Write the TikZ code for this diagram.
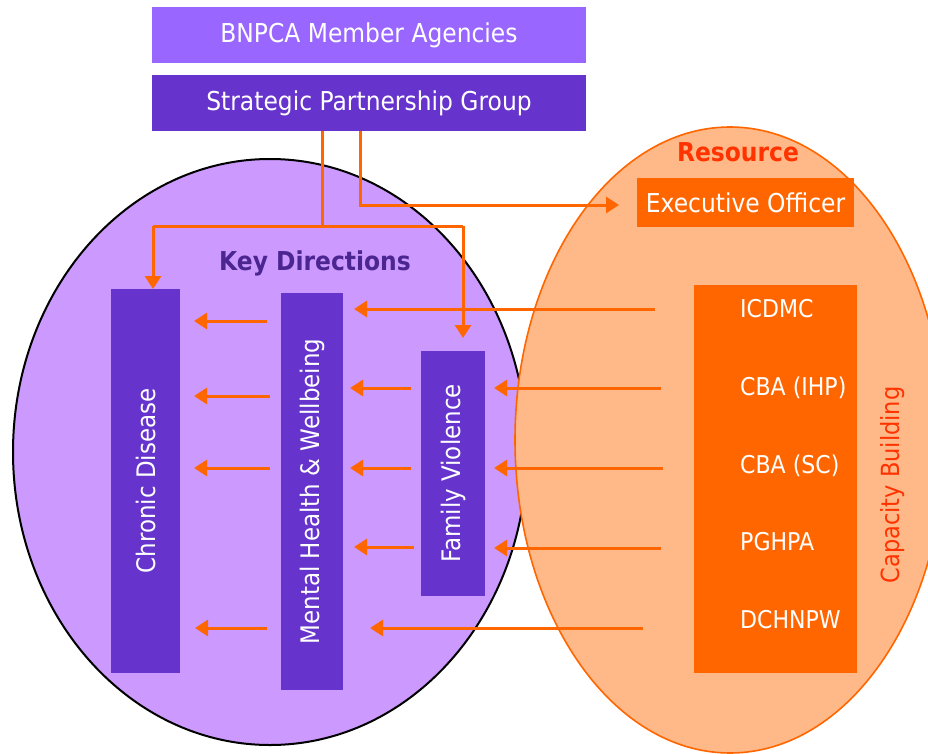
\documentclass[tikz,border=0pt]{standalone}
\usepackage{fontspec}
\setmainfont{DejaVu Sans}[FakeStretch=0.9]
\usetikzlibrary{arrows.meta}
\definecolor{agencyfill}{HTML}{9966FF}
\definecolor{darkpurple}{HTML}{6633CC}
\definecolor{purpfill}{HTML}{CC99FF}
\definecolor{orfill}{HTML}{FFB887}
\definecolor{myorange}{HTML}{FF6600}
\definecolor{redorange}{HTML}{FF3300}
\definecolor{keydir}{HTML}{4B2590}
\begin{document}
\begin{tikzpicture}[x=1pt,y=-1pt,
  txt/.style={font=\fontsize{26}{30}\selectfont},
  box/.style={txt, draw=none, inner sep=0pt, text=white},
  bar/.style={box, font=\fontsize{25.5}{30}\selectfont, fill=darkpurple, rotate=90},
  item/.style={font=\fontsize{24.5}{29}\selectfont, text=white, inner sep=0pt, anchor=base west},
  title/.style={font=\fontsize{26}{30}\selectfont\bfseries, inner sep=0pt, anchor=base},
  link/.style={draw=myorange, line width=3pt},
  arr/.style={link, -{Triangle[length=13pt,width=16pt]}}]
\useasboundingbox (0,0) rectangle (928,754);
\begin{scope}
  \clip (0,0) rectangle (928,754);
  \filldraw[fill=purpfill, draw=black, line width=2pt] (270,452) ellipse [x radius=257pt, y radius=293pt];
  \filldraw[fill=orfill, draw=myorange, line width=1.6pt] (730,440) ellipse [x radius=215pt, y radius=313pt];
\end{scope}

% top boxes
\node[box, fill=agencyfill, minimum width=434pt, minimum height=56pt] (bnpca) at (369,35) {BNPCA Member Agencies};
\node[box, fill=darkpurple, minimum width=434pt, minimum height=56pt] (spg) at (369,103) {Strategic Partnership Group};

% titles
\node[title, text=keydir] (kd) at (315,270) {Key Directions};
\node[title, text=redorange] (resl) at (738,162) {Resource};

% key direction bars
\node[bar, minimum width=384pt, minimum height=69pt] (cd) at (145.5,481) {Chronic Disease};
\node[bar, minimum width=397pt, minimum height=62pt] (mh) at (312,491.5) {Mental Health \& Wellbeing};
\node[bar, minimum width=245pt, minimum height=64pt] (fv) at (453,473.5) {Family Violence};

% resource boxes
\node[box, fill=myorange, minimum width=217pt, minimum height=48pt] (eo) at (745.5,202.5) {Executive Officer};
\node[box, fill=myorange, minimum width=163pt, minimum height=388pt] (rb) at (775.5,479) {};
\node[item] (icdmc) at (740,317) {ICDMC};
\node[item] (cbaihp) at (740,395) {CBA (IHP)};
\node[item] (cbasc) at (740,473) {CBA (SC)};
\node[item] (pghpa) at (740,550) {PGHPA};
\node[item] (dchnpw) at (740,628) {DCHNPW};
\node[font=\fontsize{25}{30}\selectfont, text=redorange, rotate=90, inner sep=0pt] (cap) at (893,485) {Capacity Building};

% connectors from the Strategic Partnership Group
\coordinate (j1) at (322,226);
\coordinate (jl) at (153,226);
\coordinate (jr) at (463,226);
\coordinate (cdtop) at (153,289);
\coordinate (fvtop) at (463,338);
\coordinate (j2) at (360,205);
\coordinate (eoin) at (619,205);
\draw[link] (spg.south -| j1) -- (j1);
\draw[link] (jl) -- (jr);
\draw[arr] (jl) -- (cdtop);
\draw[arr] (jr) -- (fvtop);
\draw[arr] (spg.south -| j2) -- (j2) -- (eoin);

% horizontal arrows
\foreach \n/\xa/\xb/\yy in {a1/655/354/309, a2/267/194/321,
    a3/661/494/388, a4/411/350/388, a5/270/194/396,
    a6/663/494/468, a7/411/350/468, a8/270/194/468,
    a9/661/494/548, a10/414/354/547,
    a11/643/370/628, a12/267/195/628}{
  \coordinate (\n s) at (\xa,\yy);
  \coordinate (\n e) at (\xb,\yy);
  \draw[arr] (\n s) -- (\n e);
}
\end{tikzpicture}
\end{document}
